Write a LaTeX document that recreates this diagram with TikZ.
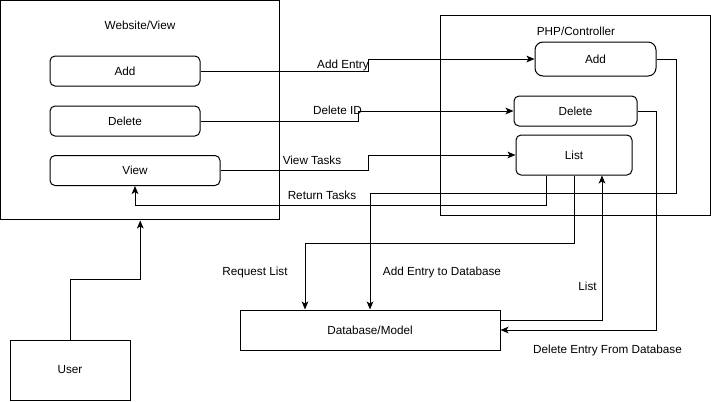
\documentclass[tikz,border=0pt]{standalone}
\usepackage{fontspec}
\setmainfont{Liberation Sans}
\usetikzlibrary{arrows.meta}

\begin{document}
\begin{tikzpicture}[x=0.75pt, y=-0.75pt, line width=0.75pt,
    box/.style={draw, inner sep=0pt, font=\fontsize{8.8}{10}\selectfont},
    rbox/.style={box, rounded corners=3.75pt},
    lbl/.style={inner sep=0pt, font=\fontsize{8.8}{10}\selectfont},
    flow/.style={-{Stealth[length=6pt, width=5pt, inset=1.5pt]}}]
                \useasboundingbox (0,0) rectangle (711,401);
                \fill[white] (0,0) rectangle (711,401);

                % Website/View side
                \node[box, minimum width=209.6pt, minimum height=164.6pt] (web) at (140.25,110.25) {};
                \node[lbl] (webtitle) at (140,25) {Website/View};
                \node[rbox, minimum width=112.5pt, minimum height=22.5pt] (wadd) at (125,71) {Add};
                \node[rbox, minimum width=112.5pt, minimum height=22.5pt] (wdel) at (125,121) {Delete};
                \node[rbox, minimum width=127.5pt, minimum height=22.5pt] (wview) at (135,170.5) {View};
                \node[box, minimum width=90pt, minimum height=45pt] (user) at (70,370) {User};

                % PHP/Controller side
                \node[box, minimum width=202.5pt, minimum height=150pt] (php) at (575,115) {};
                \node[lbl] (phptitle) at (576,31) {PHP/Controller};
                \node[box, rounded corners=6pt, minimum width=90.75pt, minimum height=25.5pt] (padd) at (595.5,59) {Add};
                \node[rbox, minimum width=92.25pt, minimum height=22.5pt] (pdel) at (575.5,111) {Delete};
                \node[rbox, minimum width=87pt, minimum height=30pt] (plist) at (574,155) {List};

                % Database/Model
                \node[box, minimum width=195pt, minimum height=30pt] (db) at (370,330) {Database/Model};

                % User to website
                \draw[flow] (user.north) -- ++(0,-60) -| (web.south);

                % website to controller
                \draw[flow] (wadd.east) -- ++(168,0) |- (padd.west);
                \node[lbl] (addlbl) at (343,65) {Add Entry};
                \draw[flow] (wdel.east) -- ++(158,0) |- (pdel.west);
                \node[lbl] (dellbl) at (337.5,110) {Delete ID};
                \draw[flow] (wview.east) -- ++(148,0) |- (plist.west);
                \node[lbl] (viewlbl) at (312,160) {View Tasks};
                \draw[flow] ([xshift=-21pt]plist.south) -- ++(0,30) -| (wview.south);
                \node[lbl] (retlbl) at (322,195) {Return Tasks};

                % controller to database
                \draw[flow] (padd.east) -- ++(20,0) -- ++(0,134) -| (db.north);
                \node[lbl] (adddblbl) at (442,272) {Add Entry to Database};
                \draw[flow] (plist.south) -- ++(0,68) -| ([xshift=-48.75pt]db.north);
                \node[lbl] (reqlbl) at (255,272) {Request List};
                \draw[flow] ([yshift=7.5pt]db.east) -| ([xshift=21pt]plist.south);
                \node[lbl] (listlbl) at (587.5,286) {List};
                \draw[flow] (pdel.east) -- ++(19,0) |- (db.east);
                \node[lbl] (deldblbl) at (607.5,350) {Delete Entry From Database};
            \end{tikzpicture}
\end{document}
